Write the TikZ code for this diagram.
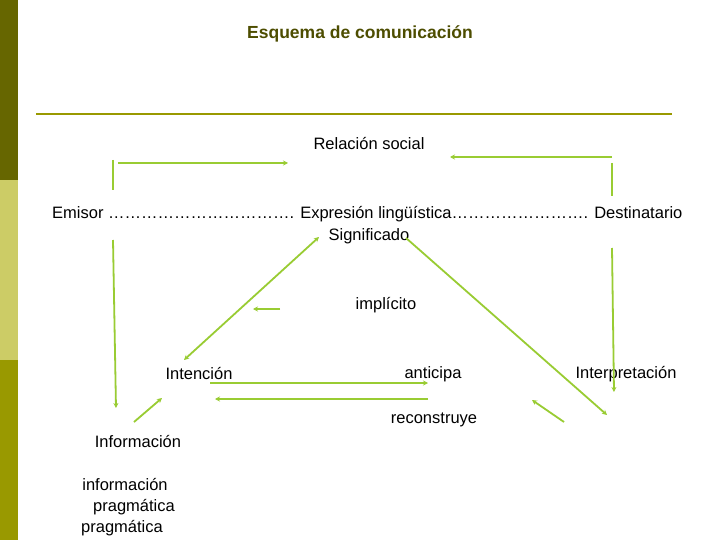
\documentclass[tikz,border=0pt]{standalone}
\usepackage{fontspec}
\setmainfont{Liberation Sans}
\usetikzlibrary{arrows.meta}
\definecolor{gr}{HTML}{99CC33}
\definecolor{ol}{HTML}{999900}
\definecolor{oldark}{HTML}{666600}
\definecolor{ollight}{HTML}{CCCC66}
\definecolor{titlec}{HTML}{4D4D00}
\begin{document}
\begin{tikzpicture}[x=1pt,y=-1pt,
  ar/.style={draw=gr,line width=1.8pt,-{Stealth[length=5pt,width=5pt]}},
  ln/.style={draw=gr,line width=1.3pt},
  tx/.style={inner sep=0pt,font=\fontsize{16.5}{19}\selectfont}]
\useasboundingbox (0,0) rectangle (720,540);
\fill[white] (0,0) rectangle (720,540);
\fill[oldark] (0,0) rectangle (18,180);
\fill[ollight] (0,180) rectangle (18,360);
\fill[ol] (0,360) rectangle (18,540);
\draw[ol,line width=2.5pt] (36,114) -- (672,114);
\node[tx,font=\bfseries\fontsize{17.5}{20}\selectfont,text=titlec] (title) at (360,34) {Esquema de comunicación};
\node[tx] (rel) at (369,144) {Relación social};
\node[tx,anchor=west] (emi) at (52,214) {Emisor ……………………………. Expresión lingüística……………………. Destinatario};
\node[tx] (sig) at (369,236) {Significado};
\node[tx] (imp) at (386,305) {implícito};
\node[tx] (int) at (199,374) {Intención};
\node[tx] (ant) at (433,374) {anticipa};
\node[tx] (inp) at (626,374) {Interpretación};
\node[tx] (rec) at (434,420) {reconstruye};
\node[tx] (inf) at (138,442) {Información};
\node[tx] (inf2) at (125,485) {información};
\node[tx] (p1) at (134,507) {pragmática};
\node[tx] (p2) at (122,528) {pragmática};
\coordinate (a1) at (113,160); \coordinate (a2) at (113,190);
\draw[ln] (a1) -- (a2);
\coordinate (b1) at (113,240); \coordinate (b2) at (116,408);
\draw[ar] (b1) -- (b2);
\coordinate (c1) at (118,163); \coordinate (c2) at (288,163);
\draw[ar] (c1) -- (c2);
\coordinate (d1) at (612,157); \coordinate (d2) at (450,157);
\draw[ar] (d1) -- (d2);
\coordinate (e1) at (612,163); \coordinate (e2) at (612,196);
\draw[ln] (e1) -- (e2);
\coordinate (f1) at (612,248); \coordinate (f2) at (614,392);
\draw[ar] (f1) -- (f2);
\coordinate (g1) at (184,360); \coordinate (g2) at (319,237);
\draw[ar,{Stealth[length=5pt,width=5pt]}-{Stealth[length=5pt,width=5pt]}] (g1) -- (g2);
\coordinate (h1) at (406,238); \coordinate (h2) at (607,415);
\draw[ar] (h1) -- (h2);
\coordinate (i1) at (280,309); \coordinate (i2) at (253,309);
\draw[ar] (i1) -- (i2);
\coordinate (j1) at (210,383); \coordinate (j2) at (428,383);
\draw[ar] (j1) -- (j2);
\coordinate (k1) at (428,399); \coordinate (k2) at (215,399);
\draw[ar] (k1) -- (k2);
\coordinate (l1) at (134,422); \coordinate (l2) at (162,398);
\draw[ar] (l1) -- (l2);
\coordinate (m1) at (564,422); \coordinate (m2) at (532,400);
\draw[ar] (m1) -- (m2);
\end{tikzpicture}
\end{document}
